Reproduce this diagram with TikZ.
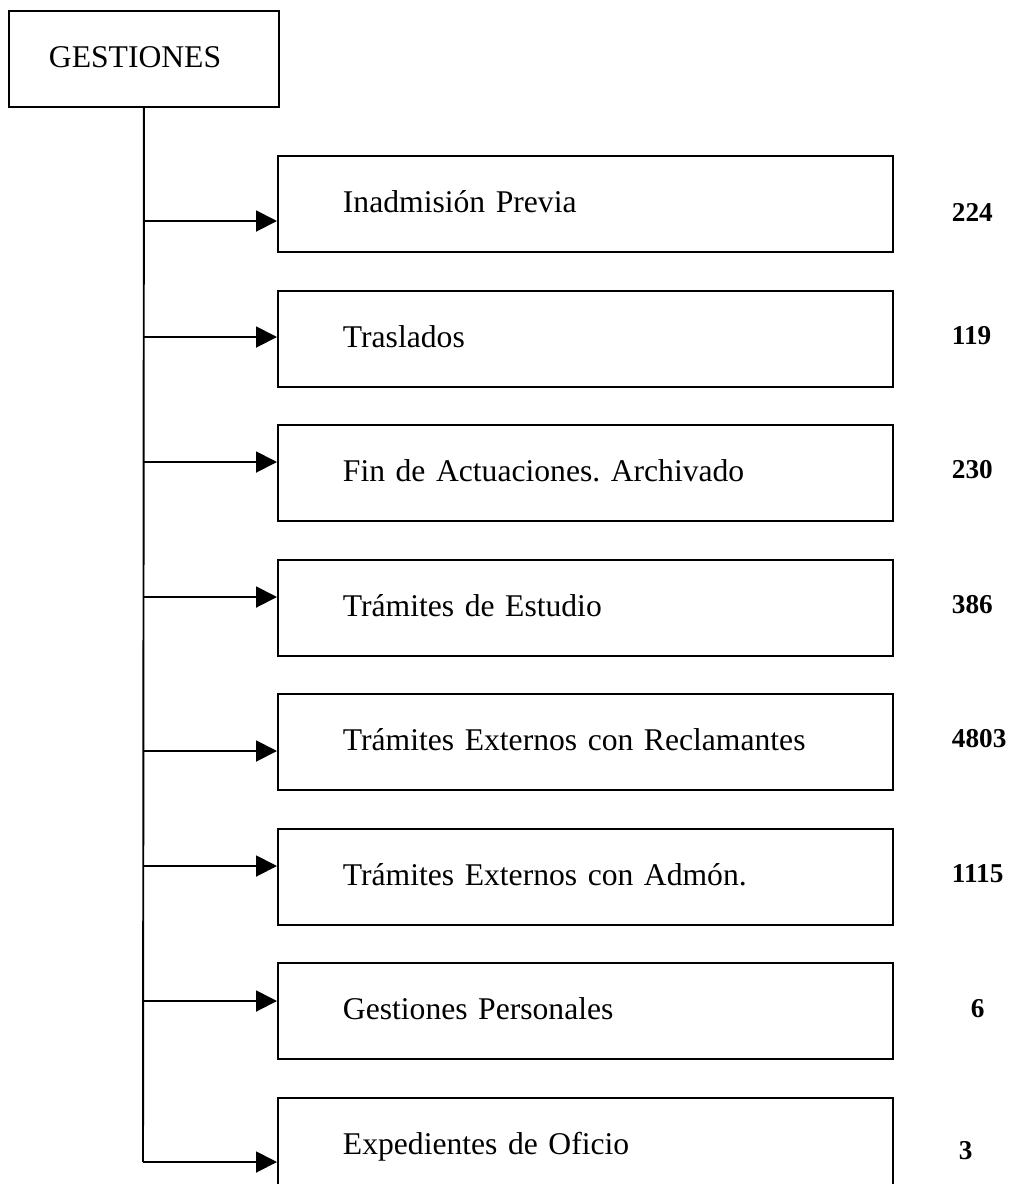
\documentclass[tikz,border=0pt]{standalone}
\usepackage{fontspec}
\setmainfont{Liberation Serif}
\usetikzlibrary{arrows.meta}
\frenchspacing

\begin{document}
\begin{tikzpicture}[x=0.02cm,y=-0.02cm,line width=1.1pt,
  frame/.style={draw,anchor=north west,minimum height=1.92cm,align=left,text height=0.98em,text depth=0pt,font=\fontsize{18}{22}\selectfont},
  item/.style={frame,minimum width=12.3cm,inner xsep=1.3cm,text width=9.7cm},
  total/.style={anchor=base west,inner sep=0pt,font=\fontsize{15.5}{18}\selectfont\bfseries},
  feed/.style={-{Triangle[length=0.42cm,width=0.42cm]}}]
\clip (0,0) rectangle (1009,1184);
\node[frame,minimum width=5.4cm,inner xsep=0.8cm,text width=3.8cm] (gest) at (8,10) {GESTIONES};
% cajas
\node[item] (b1) at (277,155) {Inadmisión Previa};
\node[item] (b2) at (277,290) {Traslados};
\node[item] (b3) at (277,424) {Fin de Actuaciones. Archivado};
\node[item] (b4) at (277,559) {Trámites de Estudio};
\node[item] (b5) at (277,693) {Trámites Externos con Reclamantes};
\node[item] (b6) at (277,828) {Trámites Externos con Admón.};
\node[item] (b7) at (277,962) {Gestiones Personales};
\node[item] (b8) at (277,1097) {Expedientes de Oficio};
% totales
\node[total] (n1) at (951,221) {224};\node[total] (n2) at (951,344) {119};
\node[total] (n3) at (951,478) {230};\node[total] (n4) at (951,613) {386};
\node[total] (n5) at (951,747) {4803};\node[total] (n6) at (951,882) {1115};
\node[total] (n7) at (970,1017) {6};\node[total] (n8) at (958,1159) {3};
% tronco y flechas
\coordinate (j1) at (143,221);\coordinate (j2) at (143,337);
\coordinate (j3) at (143,462);\coordinate (j4) at (143,597);
\coordinate (j5) at (143,751);\coordinate (j6) at (143,866);
\coordinate (j7) at (143,1001);\coordinate (j8) at (143,1162);
\draw (gest.south)--(j8);
\draw[feed] (j1)--(j1-|b1.west);\draw[feed] (j2)--(j2-|b2.west);
\draw[feed] (j3)--(j3-|b3.west);\draw[feed] (j4)--(j4-|b4.west);
\draw[feed] (j5)--(j5-|b5.west);\draw[feed] (j6)--(j6-|b6.west);
\draw[feed] (j7)--(j7-|b7.west);\draw[feed] (j8)--(j8-|b8.west);
\end{tikzpicture}
\end{document}
